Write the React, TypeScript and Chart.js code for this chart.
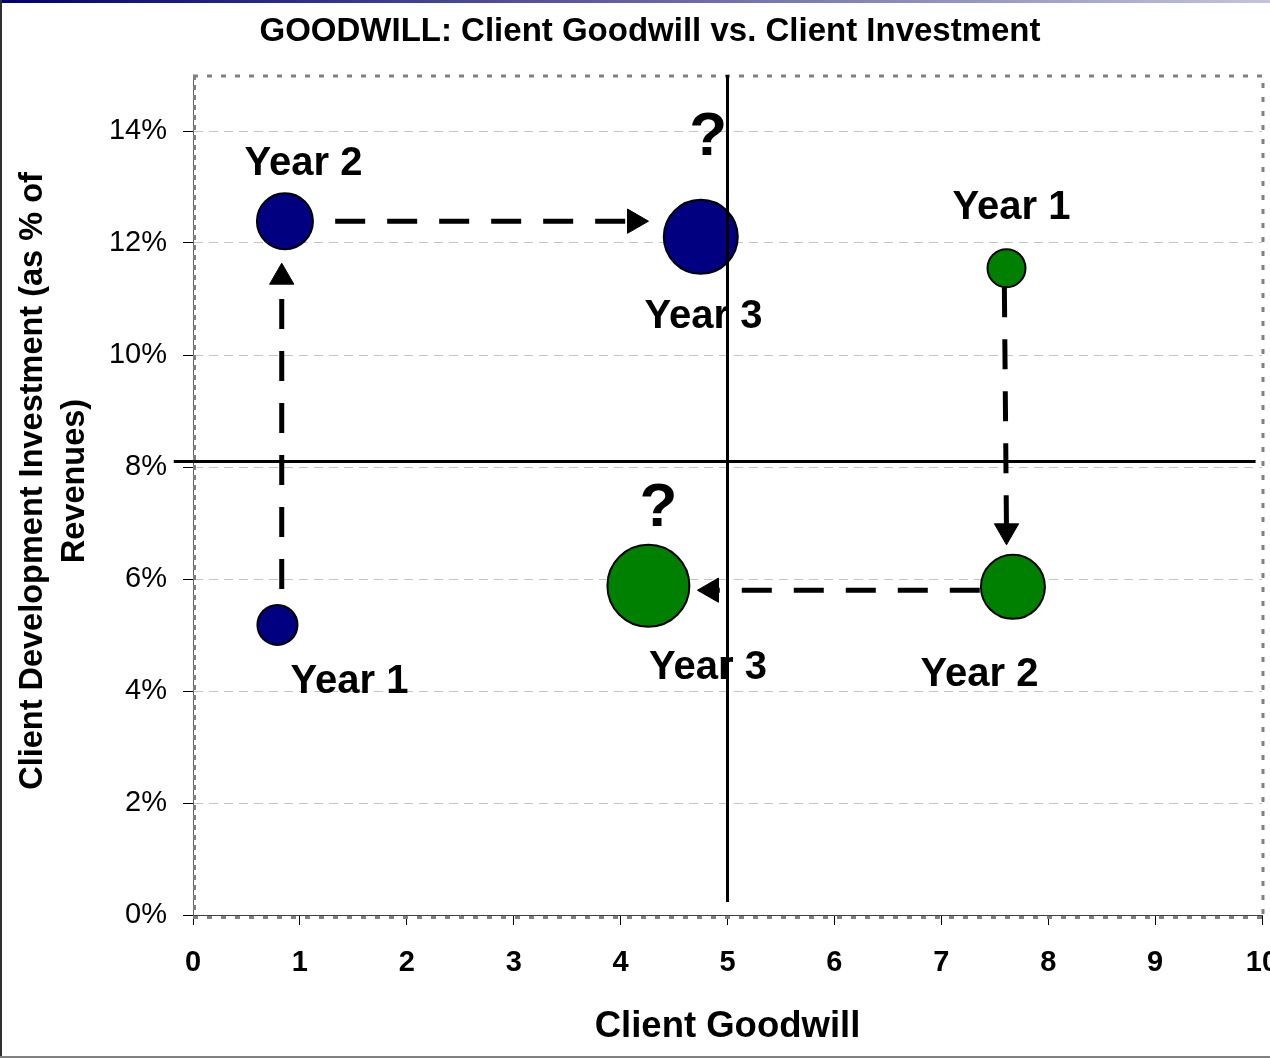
import React, { useEffect, useRef } from 'react';
import { Chart, registerables } from 'chart.js';

Chart.register(...registerables);

const FONT = '"Liberation Sans", Arial, Helvetica, sans-serif';
Chart.defaults.font.family = FONT;

// ---- text ----
const chartTitle = 'GOODWILL: Client Goodwill vs. Client Investment';
const xAxisTitle = 'Client Goodwill';
const yAxisTitleLines = ['Client Development Investment (as % of', 'Revenues)'];

// ---- axes ----
const xMin = 0;
const xMax = 10;
const xStep = 1;
const yMin = 0;
const yMax = 15;
const yStep = 2;

// ---- series: blue company (Year 1, Year 2, Year 3) ----
const blueX = [0.79, 0.86, 4.75];
const blueY = [5.18, 12.39, 12.11];
const blueSize = [20, 28, 37];

// ---- series: green company (Year 1, Year 2, Year 3) ----
const greenX = [7.61, 7.67, 4.26];
const greenY = [11.55, 5.86, 5.88];
const greenSize = [19, 32, 41];

// ---- quadrant dividers ----
const goodwillDivider = 5;
const investmentDivider = 8.1;
const investmentDividerXRange = [-0.18, 9.94];
const goodwillDividerYRange = [15, 0.23];

// ---- movement arrows (from -> to) ----
const arrowFromX = [0.83, 1.33, 7.59, 7.36];
const arrowFromY = [5.82, 12.39, 11.21, 5.8];
const arrowToX = [0.83, 4.13, 7.61, 4.85];
const arrowToY = [11.39, 12.39, 6.86, 5.8];
const arrowDirection = [0, 90, 180, 270];

// ---- annotations ----
const labelText = ['Year 1', 'Year 2', 'Year 3', '?', 'Year 1', 'Year 2', 'Year 3', '?'];
const labelX = [1.464, 1.034, 4.776, 4.82, 7.657, 7.357, 4.818, 4.355];
const labelY = [4.17, 13.41, 10.68, 13.87, 12.62, 4.29, 4.41, 7.26];

const decorPlugin = {
  id: 'decor',
  beforeDraw(chart: any) {
    const { ctx, width, height } = chart;
    ctx.save();
    ctx.fillStyle = '#ffffff';
    ctx.fillRect(0, 0, width, height);
    const g = ctx.createLinearGradient(0, 0, width, 0);
    g.addColorStop(0, '#000070');
    g.addColorStop(1, '#c4c4dc');
    ctx.fillStyle = g;
    ctx.fillRect(0, 0, width, 3);
    ctx.fillStyle = '#303030';
    ctx.fillRect(0, 0, 2, height - 2);
    ctx.fillStyle = '#808080';
    ctx.fillRect(0, height - 3, width, 2);
    ctx.restore();
  },
  beforeDatasetsDraw(chart: any) {
    const { ctx, chartArea } = chart;
    const { left, right, top, bottom } = chartArea;
    ctx.save();
    ctx.strokeStyle = '#808080';
    ctx.lineWidth = 3;
    ctx.setLineDash([5, 9]);
    ctx.beginPath();
    ctx.moveTo(left, top + 1);
    ctx.lineTo(right + 2, top + 1);
    ctx.stroke();
    ctx.beginPath();
    ctx.moveTo(left, bottom + 2.5);
    ctx.lineTo(right + 2, bottom + 2.5);
    ctx.stroke();
    ctx.beginPath();
    ctx.moveTo(right + 1, top + 8);
    ctx.lineTo(right + 1, bottom);
    ctx.stroke();
    ctx.setLineDash([5, 5]);
    ctx.beginPath();
    ctx.moveTo(left + 1.5, top);
    ctx.lineTo(left + 1.5, bottom);
    ctx.stroke();
    ctx.restore();

    const xs = chart.scales.x;
    const ys = chart.scales.y;
    ctx.save();
    ctx.fillStyle = '#000';
    ctx.textAlign = 'center';
    ctx.textBaseline = 'middle';
    labelText.forEach((t, i) => {
      ctx.font = t === '?' ? `bold 62px ${FONT}` : `bold 40px ${FONT}`;
      ctx.fillText(t, xs.getPixelForValue(labelX[i]), ys.getPixelForValue(labelY[i]));
    });
    ctx.restore();
  },
  afterDraw(chart: any) {
    const { ctx } = chart;
    ctx.save();
    ctx.fillStyle = '#000';
    ctx.font = `bold 32.5px ${FONT}`;
    ctx.textAlign = 'center';
    ctx.textBaseline = 'middle';
    const xs = [33, 75];
    yAxisTitleLines.forEach((line, i) => {
      ctx.save();
      ctx.translate(xs[i], 481);
      ctx.rotate(-Math.PI / 2);
      ctx.fillText(line, 0, 0);
      ctx.restore();
    });
    ctx.restore();
  },
};

export default function App() {
  const ref = useRef<HTMLCanvasElement>(null);

  useEffect(() => {
    const canvas = ref.current;
    if (!canvas) return;

    const arrowDatasets = arrowFromX.map((_, i) => ({
      type: 'line' as const,
      data: [
        { x: arrowFromX[i], y: arrowFromY[i] },
        { x: arrowToX[i], y: arrowToY[i] },
      ],
      borderColor: '#000',
      borderWidth: 5,
      borderDash: [30, 22],
      borderCapStyle: 'butt' as const,
      pointRadius: [0, 14],
      pointHoverRadius: [0, 14],
      pointStyle: 'triangle' as const,
      pointRotation: [0, arrowDirection[i]],
      pointBackgroundColor: '#000',
      pointBorderColor: '#000',
      pointBorderWidth: 1,
      fill: false,
      tension: 0,
      clip: false as any,
      order: 1,
    }));

    const dividerDatasets = [
      {
        type: 'line' as const,
        data: [
          { x: investmentDividerXRange[0], y: investmentDivider },
          { x: investmentDividerXRange[1], y: investmentDivider },
        ],
        borderColor: '#000',
        borderWidth: 3,
        pointRadius: 0,
        fill: false,
        clip: false as any,
        order: 0,
      },
      {
        type: 'line' as const,
        data: [
          { x: goodwillDivider, y: goodwillDividerYRange[0] },
          { x: goodwillDivider, y: goodwillDividerYRange[1] },
        ],
        borderColor: '#000',
        borderWidth: 3,
        pointRadius: 0,
        fill: false,
        clip: false as any,
        order: 0,
      },
    ];

    const bubbleDatasets = [
      {
        type: 'bubble' as const,
        label: 'Blue',
        data: blueX.map((x, i) => ({ x, y: blueY[i], r: blueSize[i] })),
        backgroundColor: '#000080',
        borderColor: '#000',
        borderWidth: 2,
        clip: false as any,
        order: 2,
      },
      {
        type: 'bubble' as const,
        label: 'Green',
        data: greenX.map((x, i) => ({ x, y: greenY[i], r: greenSize[i] })),
        backgroundColor: '#008000',
        borderColor: '#000',
        borderWidth: 2,
        clip: false as any,
        order: 2,
      },
    ];

    const chart = new Chart(canvas, {
      type: 'bubble',
      data: { datasets: [...dividerDatasets, ...arrowDatasets, ...bubbleDatasets] as any },
      options: {
        responsive: false,
        animation: false,
        devicePixelRatio: 1,
        events: [],
        layout: { padding: { left: 38, right: 8, top: 0, bottom: 0 }, autoPadding: false },
        plugins: {
          legend: { display: false },
          tooltip: { enabled: false },
          title: {
            display: true,
            text: chartTitle,
            color: '#000',
            font: { size: 33, weight: 'bold', family: FONT },
            padding: { top: 12, bottom: 23.4 },
          },
        },
        scales: {
          x: {
            type: 'linear',
            position: 'bottom',
            min: xMin,
            max: xMax,
            ticks: {
              stepSize: xStep,
              color: '#000',
              font: { size: 29, weight: 'bold', family: FONT },
              padding: 21,
              maxRotation: 0,
              autoSkip: false,
            },
            grid: {
              drawOnChartArea: false,
              drawTicks: true,
              tickLength: 10,
              tickColor: '#000',
              tickWidth: 1,
              tickBorderDash: [],
            },
            border: { display: true, color: '#404040', width: 1 },
            title: {
              display: true,
              text: xAxisTitle,
              color: '#000',
              font: { size: 36.5, weight: 'bold', family: FONT },
              padding: { top: 0, bottom: 10 },
            },
            afterFit: (s: any) => {
              s.height = 144;
              s.paddingLeft = 0;
              s.paddingRight = 0;
            },
          },
          y: {
            type: 'linear',
            position: 'left',
            min: yMin,
            max: yMax,
            ticks: {
              stepSize: yStep,
              includeBounds: false,
              color: '#000',
              font: { size: 29, family: FONT },
              padding: 16,
              callback: (v: any) => `${v}%`,
            },
            grid: {
              drawOnChartArea: true,
              drawTicks: true,
              color: '#c4c4c4',
              lineWidth: 1,
              tickLength: 10,
              tickColor: '#000',
              tickWidth: 1,
              tickBorderDash: [],
            },
            border: { display: true, color: '#606060', width: 1, dash: [9, 6] },
            afterFit: (s: any) => {
              s.width = 155;
              s.paddingTop = 0;
              s.paddingBottom = 0;
            },
          },
        },
      } as any,
      plugins: [decorPlugin],
    });

    return () => chart.destroy();
  }, []);

  return (
    <div style={{ position: 'absolute', left: 0, top: 0, width: 1270, height: 1059, overflow: 'hidden' }}>
      <canvas ref={ref} width={1270} height={1059} style={{ display: 'block', width: 1270, height: 1059 }} />
    </div>
  );
}
